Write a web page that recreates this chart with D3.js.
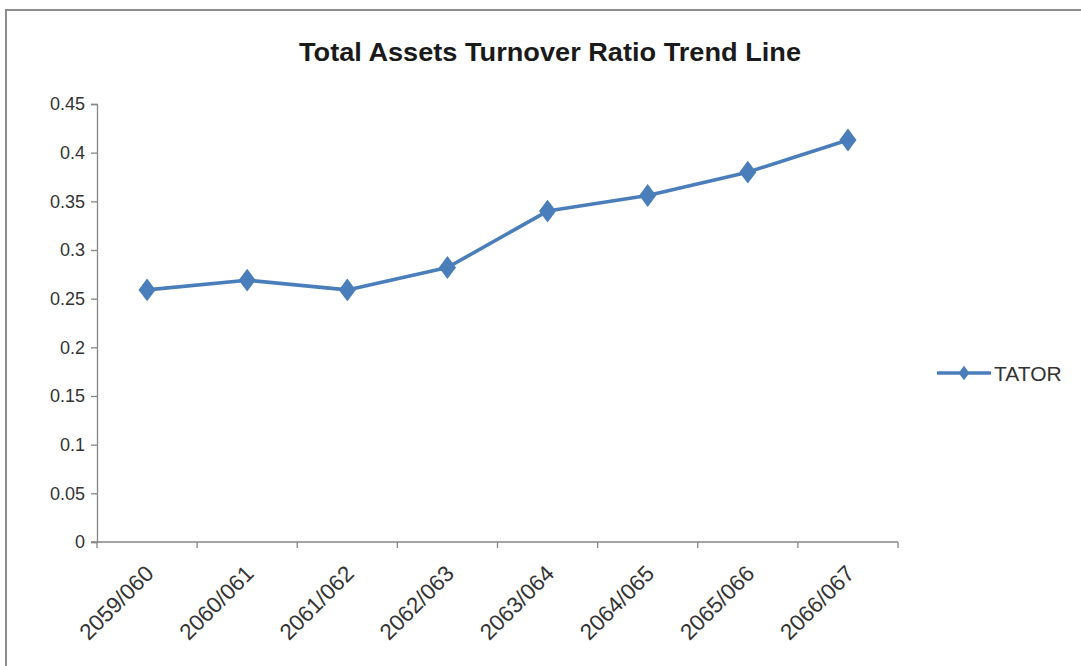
<!DOCTYPE html>
<html>
<head>
<meta charset="utf-8">
<script src="https://cdn.jsdelivr.net/npm/d3@7"></script>
<style>
  html, body { margin: 0; padding: 0; background: #fff; }
  svg { display: block; }
</style>
</head>
<body>
<script>
const categories = ["2059/060", "2060/061", "2061/062", "2062/063", "2063/064", "2064/065", "2065/066", "2066/067"];
const tatorValues = [0.259, 0.269, 0.259, 0.282, 0.340, 0.356, 0.380, 0.413];
const yTickValues = [0, 0.05, 0.1, 0.15, 0.2, 0.25, 0.3, 0.35, 0.4, 0.45];
const yTickLabels = ["0", "0.05", "0.1", "0.15", "0.2", "0.25", "0.3", "0.35", "0.4", "0.45"];
const seriesName = "TATOR";
const chartTitle = "Total Assets Turnover Ratio Trend Line";

const W = 1081, H = 666;
const margin = { left: 97, right: 183, top: 104, bottom: 124 };
const lineColor = "#4A7EBB";
const axisColor = "#868686";
const textColor = "#333333";
const font = "'Liberation Sans', Arial, sans-serif";

const svg = d3.select("body").append("svg").attr("width", W).attr("height", H);
svg.append("rect").attr("width", W).attr("height", H).attr("fill", "#fff");

// chart border (partially visible frame)
svg.append("rect").attr("x", 6).attr("y", 10).attr("width", W + 20).attr("height", H + 20)
  .attr("fill", "none").attr("stroke", "#8c8c8c").attr("stroke-width", 2);

const x = d3.scaleBand().domain(categories).range([margin.left, W - margin.right]).padding(0);
const y = d3.scaleLinear().domain([0, 0.45]).range([H - margin.bottom, margin.top]);

// title
svg.append("text").attr("x", 550).attr("y", 61).attr("text-anchor", "middle")
  .attr("font-family", font).attr("font-weight", "bold").attr("font-size", 25)
  .attr("fill", "#1a1a1a").attr("textLength", 502).attr("lengthAdjust", "spacingAndGlyphs")
  .text(chartTitle);

// y axis
const yAxis = d3.axisLeft(y).tickValues(yTickValues)
  .tickFormat((d, i) => yTickLabels[i]).tickSize(6).tickPadding(6);
const gy = svg.append("g").attr("transform", `translate(${margin.left},0)`).call(yAxis);
gy.select(".domain").attr("stroke", axisColor).attr("stroke-width", 1.3);
gy.selectAll(".tick line").attr("stroke", axisColor).attr("stroke-width", 1.3);
gy.selectAll(".tick text").attr("font-family", font).attr("font-size", 18).attr("fill", textColor);

// x axis with ticks at category boundaries
const xAxisY = y(0);
svg.append("line").attr("x1", margin.left - 6).attr("x2", W - margin.right)
  .attr("y1", xAxisY).attr("y2", xAxisY).attr("stroke", axisColor).attr("stroke-width", 1.3);
const boundaries = categories.map(c => x(c)).concat([x(categories[categories.length - 1]) + x.bandwidth()]);
svg.append("g").selectAll("line").data(boundaries).join("line")
  .attr("x1", d => d).attr("x2", d => d)
  .attr("y1", xAxisY).attr("y2", xAxisY + 6)
  .attr("stroke", axisColor).attr("stroke-width", 1.3);

svg.append("g").selectAll("text").data(categories).join("text")
  .attr("transform", d => `translate(${x(d) + x.bandwidth() / 2 + 8},${xAxisY + 33}) rotate(-45)`)
  .attr("text-anchor", "end")
  .attr("font-family", font).attr("font-size", 22.5).attr("fill", textColor)
  .text(d => d);

// line
const line = d3.line().x((d, i) => x(categories[i]) + x.bandwidth() / 2).y(d => y(d));
svg.append("path").datum(tatorValues).attr("d", line)
  .attr("fill", "none").attr("stroke", lineColor).attr("stroke-width", 3.6)
  .attr("stroke-linejoin", "round");

const diamond = d3.symbol().type(d3.symbolDiamond).size(150);
svg.append("g").selectAll("path").data(tatorValues).join("path")
  .attr("transform", (d, i) => `translate(${x(categories[i]) + x.bandwidth() / 2},${y(d)}) scale(1.3,1)`)
  .attr("d", diamond).attr("fill", lineColor);

// legend
const ly = 373;
svg.append("line").attr("x1", 937).attr("x2", 991).attr("y1", ly).attr("y2", ly)
  .attr("stroke", lineColor).attr("stroke-width", 3.6);
svg.append("path").attr("transform", `translate(964,${ly}) scale(1.3,1)`)
  .attr("d", d3.symbol().type(d3.symbolDiamond).size(60)).attr("fill", lineColor);
svg.append("text").attr("x", 994).attr("y", ly).attr("dy", "0.36em")
  .attr("font-family", font).attr("font-size", 21).attr("fill", textColor)
  .text(seriesName);
</script>
</body>
</html>
